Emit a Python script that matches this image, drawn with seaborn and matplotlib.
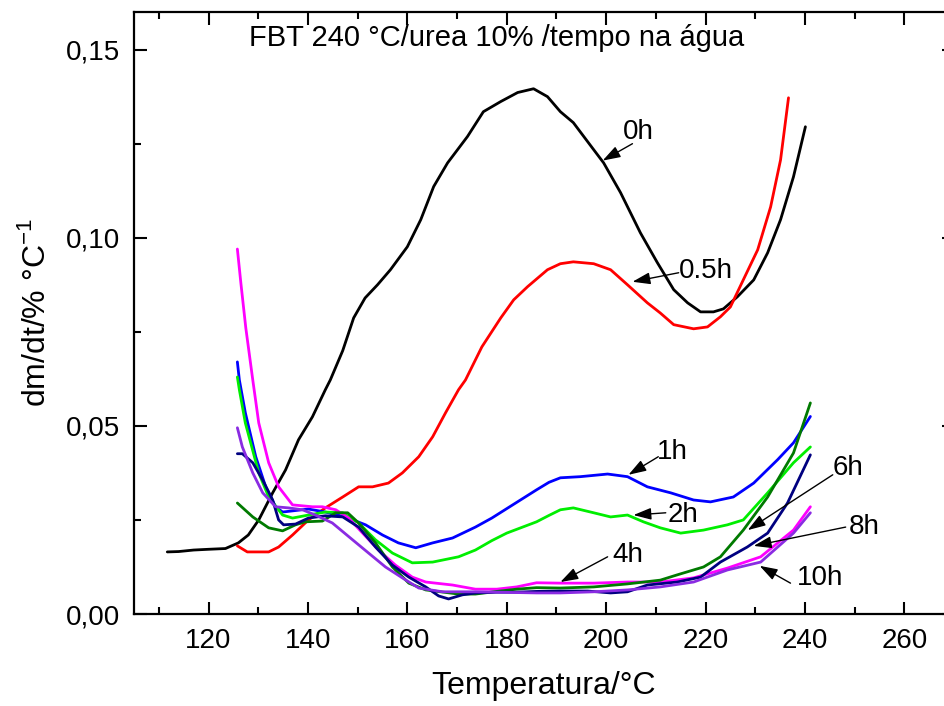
import matplotlib
matplotlib.use("Agg")
from matplotlib import pyplot as plt
from matplotlib.ticker import MultipleLocator, FuncFormatter
import seaborn as sns
import pandas as pd

# curves: temperature (C) and dm/dt
t_0h = [111.7, 114, 117, 120, 123.4, 126.0, 128.0, 130.1, 132.9, 135.5, 138.1, 140.9, 143.5, 144.5, 147.0, 149.2,
        151.5, 154.0, 156.6, 160.0, 162.7, 165.3, 168.1, 172.1, 175.3, 178.8, 182.2, 185.4, 188.2, 190.8, 193.4,
        197.5, 199.5, 202.9, 206.9, 210.3, 213.6, 216.4, 219.0, 221.6, 223.6, 226.4, 229.7, 232.5, 235.1, 237.7, 240.1]
y_0h = [0.0165, 0.0166, 0.0170, 0.0172, 0.0174, 0.0189, 0.0210, 0.0250, 0.0322, 0.0383, 0.0463, 0.0524, 0.0596, 0.0622,
        0.0700, 0.0787, 0.0840, 0.0875, 0.0915, 0.0976, 0.1048, 0.1136, 0.1199, 0.1269, 0.1335, 0.1362, 0.1386, 0.1396,
        0.1375, 0.1335, 0.1306, 0.1234, 0.1199, 0.1120, 0.1013, 0.0934, 0.0862, 0.0827, 0.0803, 0.0803, 0.0811, 0.0843,
        0.0888, 0.0960, 0.1048, 0.1162, 0.1295]

t_05h = [125.8, 127.8, 132.1, 134.1, 136.9, 140.1, 143.5, 147.0, 150.2, 153.0, 156.2, 159.0, 162.3, 165.1, 167.7,
         170.3, 171.7, 175.0, 178.8, 181.4, 184.2, 188.2, 190.8, 193.4, 197.5, 200.9, 204.3, 208.3, 210.9, 213.6,
         217.6, 220.4, 223.0, 225.0, 227.6, 230.5, 233.1, 235.1, 236.7]
y_05h = [0.0181, 0.0165, 0.0165, 0.0178, 0.0210, 0.0250, 0.0282, 0.0311, 0.0338, 0.0338, 0.0348, 0.0375, 0.0418,
         0.0471, 0.0535, 0.0596, 0.0622, 0.0710, 0.0787, 0.0835, 0.0870, 0.0915, 0.0931, 0.0936, 0.0931, 0.0915,
         0.0875, 0.0827, 0.0800, 0.0769, 0.0758, 0.0763, 0.0790, 0.0816, 0.0888, 0.0968, 0.1082, 0.1207, 0.1372]

t_1h = [125.8, 126.2, 127.4, 129.5, 131.5, 133.5, 134.9, 140.1, 143.5, 147.5, 151.6, 155.0, 158.2, 161.7, 165.1, 169.1,
        173.7, 177.0, 180.0, 183.0, 186.0, 188.5, 190.8, 194.8, 200.3, 204.3, 208.3, 213.0, 217.6, 221.0, 225.6, 229.7,
        234.5, 237.7, 241.1]
y_1h = [0.0670, 0.0622, 0.0535, 0.0418, 0.0338, 0.0285, 0.0271, 0.0279, 0.0271, 0.0258, 0.0237, 0.0210, 0.0189, 0.0176,
        0.0189, 0.0202, 0.0231, 0.0255, 0.0280, 0.0305, 0.0330, 0.0350, 0.0362, 0.0365, 0.0372, 0.0365, 0.0338, 0.0322,
        0.0303, 0.0298, 0.0311, 0.0348, 0.0410, 0.0455, 0.0525]

t_2h = [125.8, 126.2, 127.4, 130.1, 132.1, 134.9, 136.9, 140.1, 143.5, 147.0, 150.2, 153.6, 157.0, 161.0, 165.1, 170.3,
        173.7, 177.0, 180.0, 183.0, 186.0, 188.5, 190.8, 193.4, 197.5, 200.9, 204.3, 207.5, 210.9, 215.0, 219.6, 224.4,
        227.6, 232.5, 237.7, 241.1]
y_2h = [0.0630, 0.0596, 0.0508, 0.0375, 0.0311, 0.0263, 0.0255, 0.0263, 0.0271, 0.0269, 0.0242, 0.0197, 0.0162, 0.0136,
        0.0138, 0.0152, 0.0170, 0.0195, 0.0215, 0.0230, 0.0245, 0.0262, 0.0277, 0.0282, 0.0269, 0.0258, 0.0263, 0.0245,
        0.0229, 0.0215, 0.0223, 0.0237, 0.0250, 0.0322, 0.0402, 0.0444]

t_4h = [125.8, 126.5, 127.5, 128.9, 130.1, 132.1, 134.1, 136.9, 140.9, 142.9, 145.6, 148.2, 151.0, 154.2, 157.6, 161.0,
        163.7, 169.1, 173.7, 178.0, 182.0, 186.0, 190.8, 197.5, 204.3, 210.9, 217.6, 224.4, 231.1, 237.7, 241.1]
y_4h = [0.0970, 0.0880, 0.0760, 0.0622, 0.0508, 0.0402, 0.0338, 0.0290, 0.0285, 0.0285, 0.0277, 0.0255, 0.0215, 0.0170,
        0.0130, 0.0098, 0.0085, 0.0077, 0.0066, 0.0066, 0.0072, 0.0083, 0.0082, 0.0082, 0.0085, 0.0085, 0.0096, 0.0122,
        0.0152, 0.0223, 0.0285]

t_6h = [125.8, 128.9, 132.1, 134.9, 137.5, 139.5, 142.9, 145.6, 148.0, 150.2, 153.6, 157.0, 160.3, 163.7, 170.3, 173.7,
        178.0, 182.0, 186.0, 190.8, 197.5, 204.3, 210.9, 214.3, 219.6, 223.0, 227.6, 232.5, 237.7, 241.1]
y_6h = [0.0295, 0.0258, 0.0229, 0.0221, 0.0237, 0.0245, 0.0247, 0.0269, 0.0269, 0.0242, 0.0189, 0.0125, 0.0082, 0.0064,
        0.0053, 0.0053, 0.0060, 0.0066, 0.0070, 0.0069, 0.0072, 0.0080, 0.0090, 0.0104, 0.0125, 0.0152, 0.0223, 0.0311,
        0.0428, 0.0561]

t_8h = [125.8, 126.8, 128.9, 130.9, 132.9, 134.1, 135.1, 137.5, 140.1, 143.5, 147.0, 150.2, 153.6, 157.0, 160.3, 163.7,
        166.3, 168.3, 171.1, 173.7, 178.0, 182.0, 186.0, 190.8, 196.3, 200.9, 204.3, 208.3, 214.3, 219.0, 223.0, 228.4,
        232.5, 236.5, 241.1]
y_8h = [0.0426, 0.0426, 0.0402, 0.0356, 0.0303, 0.0250, 0.0237, 0.0239, 0.0255, 0.0261, 0.0258, 0.0231, 0.0178, 0.0130,
        0.0098, 0.0072, 0.0048, 0.0040, 0.0051, 0.0056, 0.0058, 0.0058, 0.0060, 0.0061, 0.0061, 0.0056, 0.0059, 0.0077,
        0.0085, 0.0098, 0.0138, 0.0178, 0.0215, 0.0295, 0.0423]

t_10h = [125.8, 126.8, 128.9, 130.9, 133.5, 136.1, 138.9, 141.5, 144.9, 149.0, 152.2, 155.6, 159.0, 162.3, 167.1,
         173.7, 178.0, 182.0, 186.0, 190.8, 197.5, 204.3, 210.9, 217.6, 224.4, 231.1, 237.7, 241.1]
y_10h = [0.0495, 0.0444, 0.0375, 0.0322, 0.0285, 0.0282, 0.0277, 0.0263, 0.0242, 0.0197, 0.0162, 0.0125, 0.0096,
         0.0069, 0.0059, 0.0059, 0.0058, 0.0057, 0.0056, 0.0056, 0.0059, 0.0064, 0.0072, 0.0085, 0.0117, 0.0138,
         0.0215, 0.0269]

series_names = ["0h", "0.5h", "1h", "2h", "4h", "6h", "8h", "10h"]
series_t = [t_0h, t_05h, t_1h, t_2h, t_4h, t_6h, t_8h, t_10h]
series_y = [y_0h, y_05h, y_1h, y_2h, y_4h, y_6h, y_8h, y_10h]
colors = ["black", "#ff0000", "#0000ff", "#00ee00", "#ff00ff", "#007a00", "#000080", "#8a2be2"]

# label text centre, arrow tail, arrow tip
label_pos = [(206.5, 0.128), (220.1, 0.0912), (213.4, 0.0431), (215.4, 0.0263),
             (204.3, 0.0157), (248.6, 0.0388), (252.0, 0.0231), (243.1, 0.0096)]
arrow_tail = [(205.3, 0.1250), (214.6, 0.0907), (210.5, 0.0418), (212.0, 0.0269),
              (200.3, 0.0152), (245.6, 0.0370), (248.2, 0.0231), (237.1, 0.0082)]
arrow_tip = [(199.3, 0.1205), (205.3, 0.0883), (204.5, 0.0370), (205.5, 0.0263),
             (190.8, 0.0085), (228.5, 0.0223), (229.7, 0.0181), (230.9, 0.0128)]

sns.set_style("ticks", {"axes.edgecolor": "black", "text.color": "black", "axes.labelcolor": "black",
                        "xtick.color": "black", "ytick.color": "black"})
plt.rcParams['font.family'] = ['Liberation Sans', 'DejaVu Sans']
plt.rcParams['mathtext.fontset'] = 'custom'
plt.rcParams['mathtext.rm'] = 'Liberation Sans'

fig = plt.figure(figsize=(9.44, 7.06), dpi=100)
ax = fig.add_axes([134/944, 92/706, 820/944, 602/706])

for name, tt, yy, c in zip(series_names, series_t, series_y, colors):
    sub = pd.DataFrame({"T": tt, "dmdt": yy})
    sns.lineplot(data=sub, x="T", y="dmdt", color=c, sort=False, lw=2.0, ax=ax)

for name, lp, tl, tp in zip(series_names, label_pos, arrow_tail, arrow_tip):
    ax.annotate("", xy=tp, xytext=tl,
                arrowprops=dict(arrowstyle="-|>,head_length=0.9,head_width=0.3", color="black",
                                lw=1.0, mutation_scale=12, shrinkA=0, shrinkB=0))
    ax.text(lp[0], lp[1], name, ha="center", va="center", fontsize=20)

ax.text(178, 0.1532, "FBT 240 °C/urea 10% /tempo na água", ha="center", va="center", fontsize=21)

ax.set_xlim(105, 270)
ax.set_ylim(0, 0.16)
ax.xaxis.set_major_locator(MultipleLocator(20))
ax.xaxis.set_minor_locator(MultipleLocator(10))
ax.yaxis.set_major_locator(MultipleLocator(0.05))
ax.yaxis.set_minor_locator(MultipleLocator(0.025))
ax.yaxis.set_major_formatter(FuncFormatter(lambda v, p: f"{v:.2f}".replace(".", ",")))
ax.tick_params(which="both", direction="in", top=True, right=True, width=1.5, labelsize=20, colors="black")
ax.tick_params(which="major", length=9, pad=10)
ax.tick_params(which="minor", length=5)
for s in ax.spines.values():
    s.set_linewidth(1.6)
    s.set_color("black")

ax.set_xlabel("Temperatura/°C", fontsize=23, labelpad=12)
ax.set_ylabel(r"dm/dt/% °C$^{\mathregular{-1}}$", fontsize=23, labelpad=10)

fig.savefig("out.png", dpi=100)
